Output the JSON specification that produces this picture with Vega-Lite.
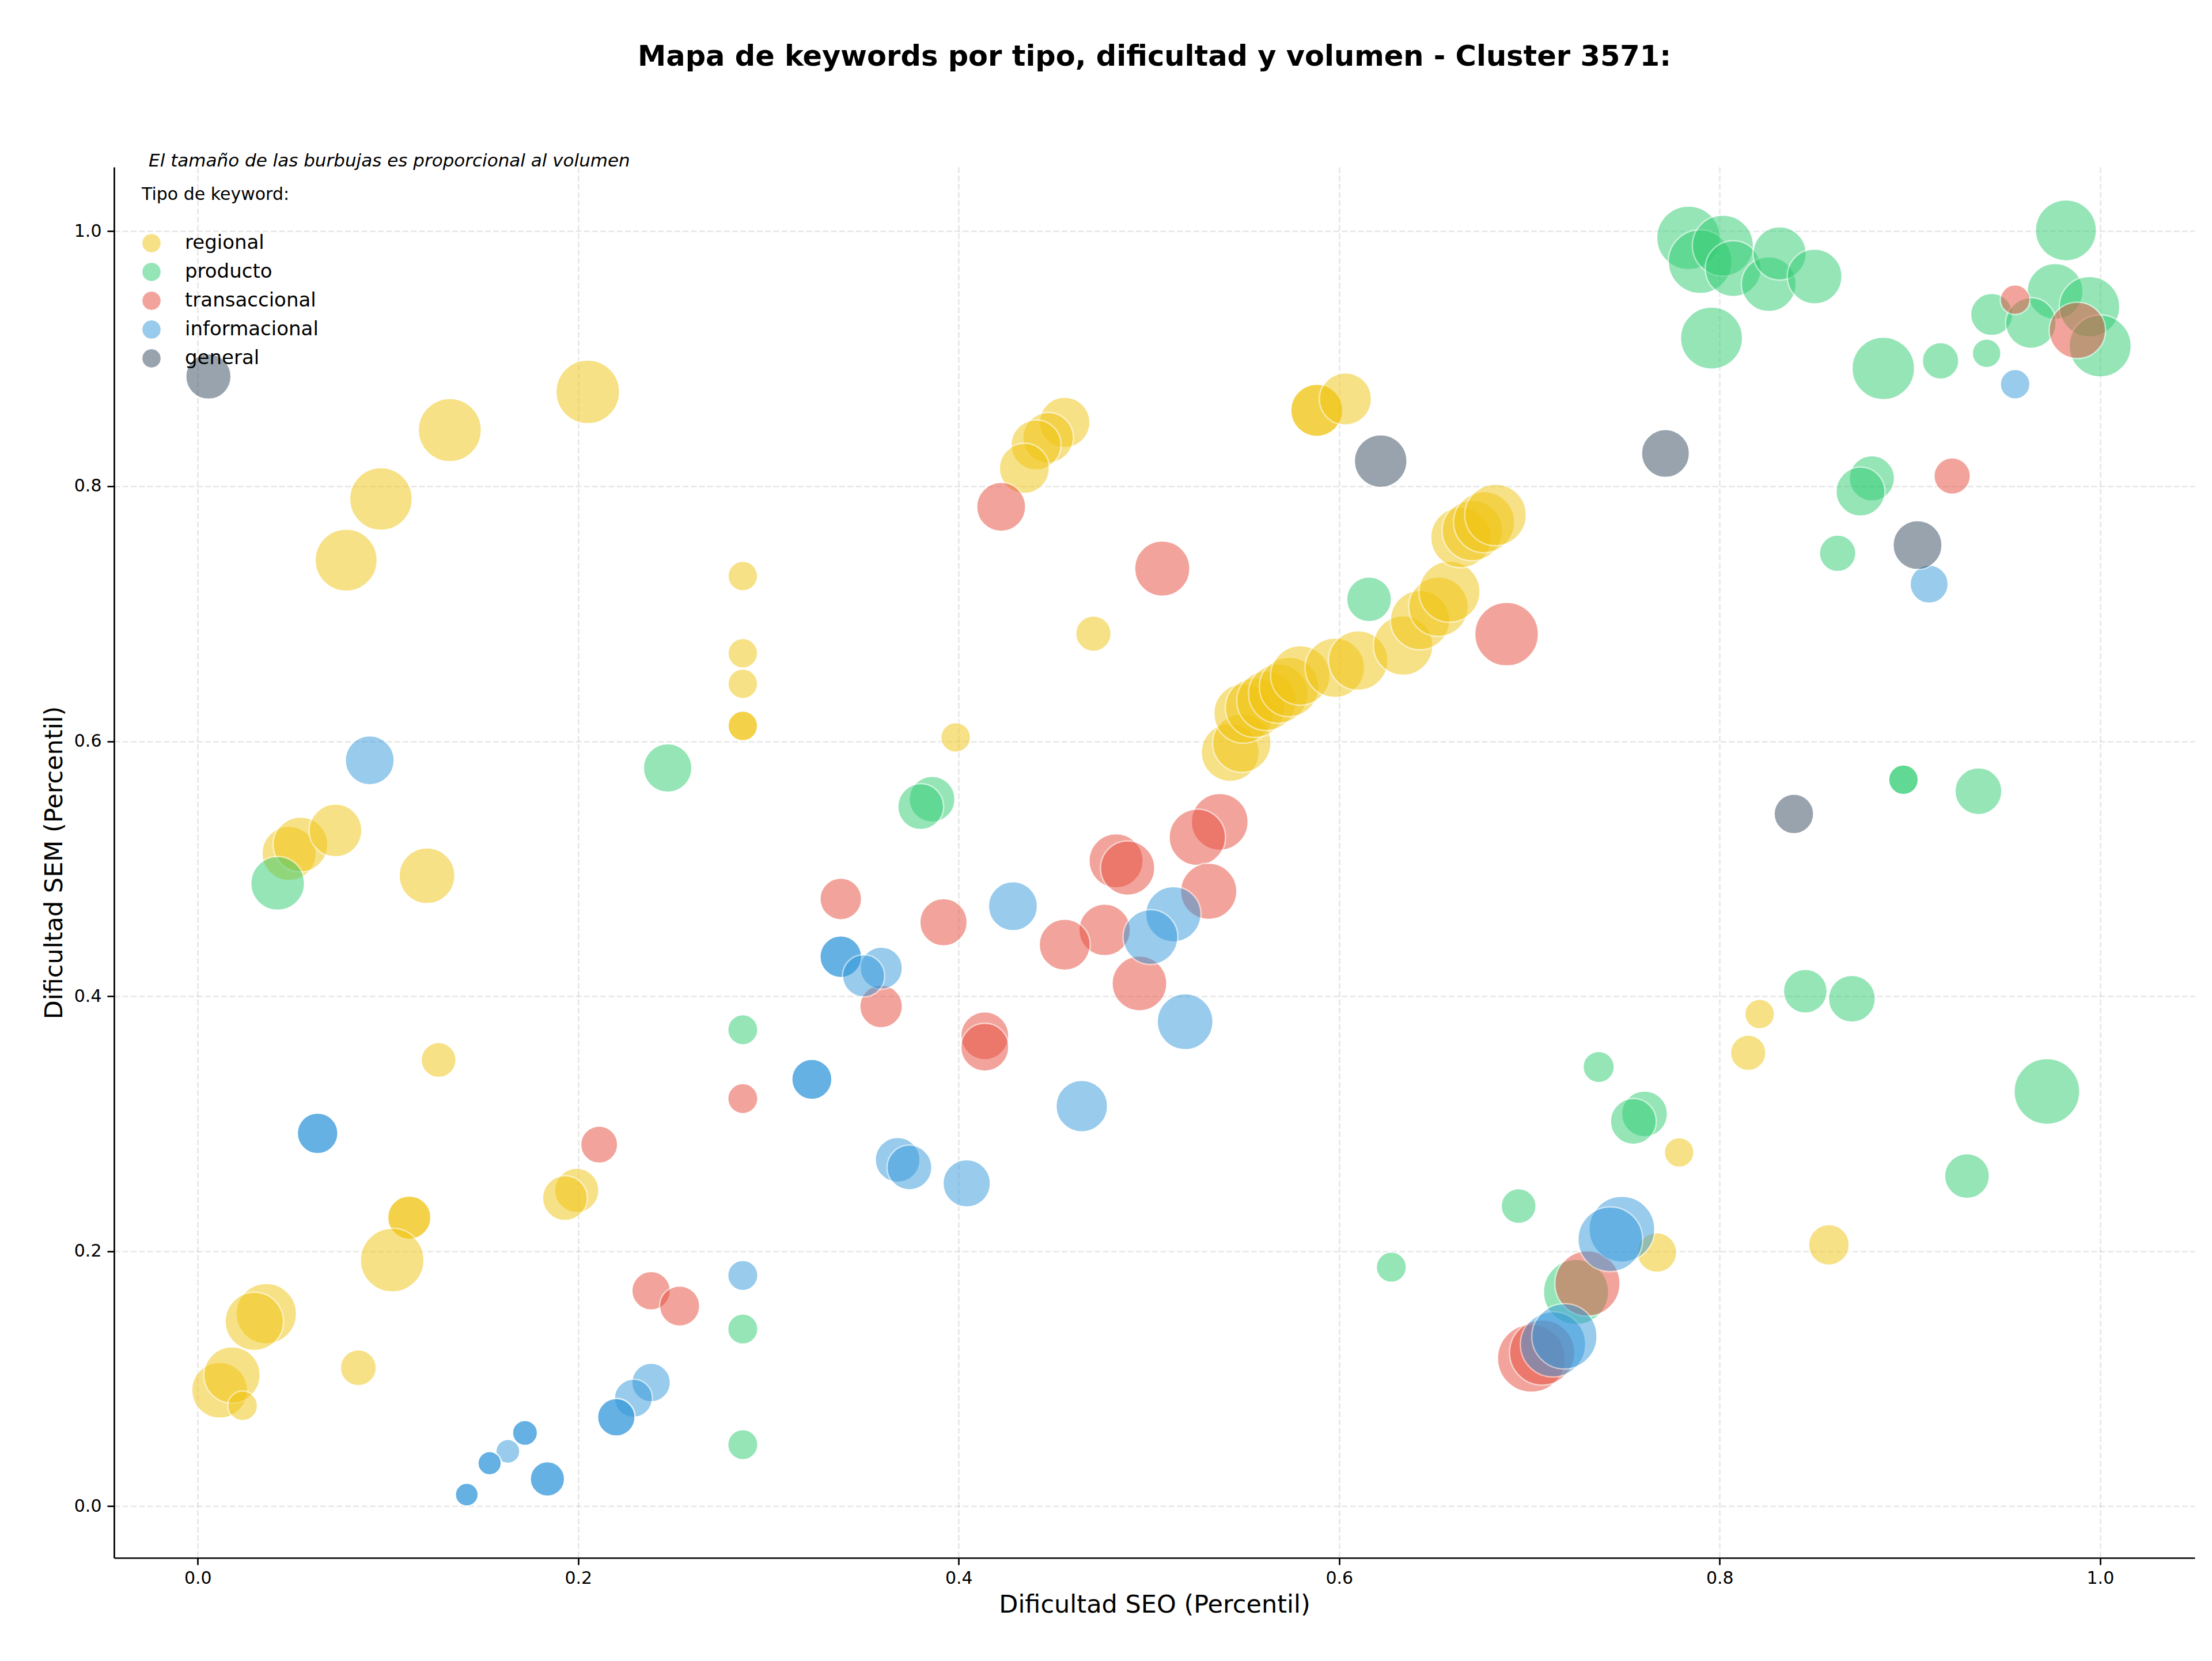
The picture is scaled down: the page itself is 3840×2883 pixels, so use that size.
{
  "$schema": "https://vega.github.io/schema/vega-lite/v6.json",
  "width": 3612,
  "height": 2414,
  "autosize": {"type": "none"},
  "padding": {"left": 198, "top": 290, "right": 30, "bottom": 179},
  "background": "white",
  "config": {"view": {"stroke": null}, "font": "DejaVu Sans"},
  "title": {
    "text": "Mapa de keywords por tipo, dificultad y volumen - Cluster 3571:",
    "font": "DejaVu Sans",
    "fontSize": 49.5,
    "fontWeight": "bold",
    "color": "black",
    "anchor": "middle",
    "baseline": "alphabetic",
    "offset": 101
  },
  "layer": [
    {
      "data": {
        "values": [
          {"tipo": "regional", "seo": 0.205, "sem": 0.874, "volumen": 1169},
          {"tipo": "regional", "seo": 0.1325, "sem": 0.844, "volumen": 1150},
          {"tipo": "regional", "seo": 0.0963, "sem": 0.79, "volumen": 1131},
          {"tipo": "regional", "seo": 0.078, "sem": 0.742, "volumen": 1112},
          {"tipo": "regional", "seo": 0.048, "sem": 0.512, "volumen": 849},
          {"tipo": "regional", "seo": 0.054, "sem": 0.519, "volumen": 866},
          {"tipo": "regional", "seo": 0.0724, "sem": 0.53, "volumen": 801},
          {"tipo": "regional", "seo": 0.1205, "sem": 0.4945, "volumen": 899},
          {"tipo": "regional", "seo": 0.1266, "sem": 0.35, "volumen": 353},
          {"tipo": "regional", "seo": 0.1992, "sem": 0.2477, "volumen": 567},
          {"tipo": "regional", "seo": 0.193, "sem": 0.2417, "volumen": 581},
          {"tipo": "regional", "seo": 0.1112, "sem": 0.2264, "volumen": 541},
          {"tipo": "regional", "seo": 0.1112, "sem": 0.2264, "volumen": 541},
          {"tipo": "regional", "seo": 0.1022, "sem": 0.193, "volumen": 1169},
          {"tipo": "regional", "seo": 0.036, "sem": 0.151, "volumen": 1057},
          {"tipo": "regional", "seo": 0.0297, "sem": 0.145, "volumen": 985},
          {"tipo": "regional", "seo": 0.0844, "sem": 0.1086, "volumen": 374},
          {"tipo": "regional", "seo": 0.0115, "sem": 0.091, "volumen": 899},
          {"tipo": "regional", "seo": 0.018, "sem": 0.103, "volumen": 916},
          {"tipo": "regional", "seo": 0.0236, "sem": 0.0787, "volumen": 255},
          {"tipo": "regional", "seo": 0.2865, "sem": 0.7295, "volumen": 255},
          {"tipo": "regional", "seo": 0.2865, "sem": 0.669, "volumen": 255},
          {"tipo": "regional", "seo": 0.2865, "sem": 0.645, "volumen": 255},
          {"tipo": "regional", "seo": 0.2865, "sem": 0.612, "volumen": 255},
          {"tipo": "regional", "seo": 0.2865, "sem": 0.612, "volumen": 255},
          {"tipo": "regional", "seo": 0.3984, "sem": 0.603, "volumen": 255},
          {"tipo": "regional", "seo": 0.4557, "sem": 0.85, "volumen": 739},
          {"tipo": "regional", "seo": 0.447, "sem": 0.838, "volumen": 739},
          {"tipo": "regional", "seo": 0.4406, "sem": 0.8324, "volumen": 724},
          {"tipo": "regional", "seo": 0.4345, "sem": 0.814, "volumen": 724},
          {"tipo": "regional", "seo": 0.4708, "sem": 0.6844, "volumen": 363},
          {"tipo": "regional", "seo": 0.5882, "sem": 0.8595, "volumen": 785},
          {"tipo": "regional", "seo": 0.5882, "sem": 0.8595, "volumen": 785},
          {"tipo": "regional", "seo": 0.6033, "sem": 0.8685, "volumen": 785},
          {"tipo": "regional", "seo": 0.5427, "sem": 0.5912, "volumen": 968},
          {"tipo": "regional", "seo": 0.5488, "sem": 0.5985, "volumen": 985},
          {"tipo": "regional", "seo": 0.5497, "sem": 0.6218, "volumen": 1021},
          {"tipo": "regional", "seo": 0.5558, "sem": 0.6263, "volumen": 1021},
          {"tipo": "regional", "seo": 0.5618, "sem": 0.6317, "volumen": 1021},
          {"tipo": "regional", "seo": 0.568, "sem": 0.6374, "volumen": 1021},
          {"tipo": "regional", "seo": 0.5737, "sem": 0.6426, "volumen": 1021},
          {"tipo": "regional", "seo": 0.5796, "sem": 0.6516, "volumen": 1021},
          {"tipo": "regional", "seo": 0.5977, "sem": 0.6576, "volumen": 1021},
          {"tipo": "regional", "seo": 0.61, "sem": 0.6633, "volumen": 1021},
          {"tipo": "regional", "seo": 0.6336, "sem": 0.675, "volumen": 1021},
          {"tipo": "regional", "seo": 0.6425, "sem": 0.695, "volumen": 1021},
          {"tipo": "regional", "seo": 0.6522, "sem": 0.7055, "volumen": 1021},
          {"tipo": "regional", "seo": 0.658, "sem": 0.7173, "volumen": 1075},
          {"tipo": "regional", "seo": 0.664, "sem": 0.7598, "volumen": 1057},
          {"tipo": "regional", "seo": 0.67, "sem": 0.7652, "volumen": 1057},
          {"tipo": "regional", "seo": 0.6762, "sem": 0.7718, "volumen": 1075},
          {"tipo": "regional", "seo": 0.6822, "sem": 0.7775, "volumen": 1094},
          {"tipo": "regional", "seo": 0.7787, "sem": 0.2775, "volumen": 255},
          {"tipo": "regional", "seo": 0.821, "sem": 0.386, "volumen": 255},
          {"tipo": "regional", "seo": 0.815, "sem": 0.3556, "volumen": 363},
          {"tipo": "regional", "seo": 0.767, "sem": 0.199, "volumen": 454},
          {"tipo": "regional", "seo": 0.8574, "sem": 0.205, "volumen": 478},
          {"tipo": "producto", "seo": 0.247, "sem": 0.579, "volumen": 680},
          {"tipo": "producto", "seo": 0.042, "sem": 0.4885, "volumen": 833},
          {"tipo": "producto", "seo": 0.2865, "sem": 0.3737, "volumen": 264},
          {"tipo": "producto", "seo": 0.2865, "sem": 0.139, "volumen": 264},
          {"tipo": "producto", "seo": 0.2865, "sem": 0.0483, "volumen": 264},
          {"tipo": "producto", "seo": 0.386, "sem": 0.5545, "volumen": 608},
          {"tipo": "producto", "seo": 0.38, "sem": 0.5487, "volumen": 608},
          {"tipo": "producto", "seo": 0.6157, "sem": 0.7113, "volumen": 581},
          {"tipo": "producto", "seo": 0.7836, "sem": 0.9948, "volumen": 1169},
          {"tipo": "producto", "seo": 0.7897, "sem": 0.9761, "volumen": 1169},
          {"tipo": "producto", "seo": 0.8017, "sem": 0.9887, "volumen": 1075},
          {"tipo": "producto", "seo": 0.8071, "sem": 0.9706, "volumen": 899},
          {"tipo": "producto", "seo": 0.8258, "sem": 0.9585, "volumen": 866},
          {"tipo": "producto", "seo": 0.8315, "sem": 0.9826, "volumen": 817},
          {"tipo": "producto", "seo": 0.8499, "sem": 0.9645, "volumen": 866},
          {"tipo": "producto", "seo": 0.7957, "sem": 0.9162, "volumen": 1112},
          {"tipo": "producto", "seo": 0.886, "sem": 0.8924, "volumen": 1131},
          {"tipo": "producto", "seo": 0.9161, "sem": 0.8983, "volumen": 385},
          {"tipo": "producto", "seo": 0.9403, "sem": 0.9042, "volumen": 238},
          {"tipo": "producto", "seo": 0.982, "sem": 1.0007, "volumen": 1075},
          {"tipo": "producto", "seo": 0.9763, "sem": 0.9528, "volumen": 899},
          {"tipo": "producto", "seo": 0.943, "sem": 0.9347, "volumen": 515},
          {"tipo": "producto", "seo": 0.9636, "sem": 0.928, "volumen": 739},
          {"tipo": "producto", "seo": 0.9944, "sem": 0.9408, "volumen": 1057},
          {"tipo": "producto", "seo": 1.0, "sem": 0.91, "volumen": 1112},
          {"tipo": "producto", "seo": 0.88, "sem": 0.8062, "volumen": 594},
          {"tipo": "producto", "seo": 0.874, "sem": 0.7958, "volumen": 694},
          {"tipo": "producto", "seo": 0.862, "sem": 0.7474, "volumen": 385},
          {"tipo": "producto", "seo": 0.8966, "sem": 0.5698, "volumen": 255},
          {"tipo": "producto", "seo": 0.8966, "sem": 0.5698, "volumen": 255},
          {"tipo": "producto", "seo": 0.936, "sem": 0.5608, "volumen": 636},
          {"tipo": "producto", "seo": 0.845, "sem": 0.404, "volumen": 554},
          {"tipo": "producto", "seo": 0.8695, "sem": 0.398, "volumen": 636},
          {"tipo": "producto", "seo": 0.972, "sem": 0.3253, "volumen": 1247},
          {"tipo": "producto", "seo": 0.93, "sem": 0.259, "volumen": 581},
          {"tipo": "producto", "seo": 0.7605, "sem": 0.3077, "volumen": 608},
          {"tipo": "producto", "seo": 0.7546, "sem": 0.3018, "volumen": 608},
          {"tipo": "producto", "seo": 0.6943, "sem": 0.2354, "volumen": 353},
          {"tipo": "producto", "seo": 0.7364, "sem": 0.3445, "volumen": 283},
          {"tipo": "producto", "seo": 0.6274, "sem": 0.1875, "volumen": 264},
          {"tipo": "producto", "seo": 0.7245, "sem": 0.168, "volumen": 1227},
          {"tipo": "transaccional", "seo": 0.2865, "sem": 0.3197, "volumen": 264},
          {"tipo": "transaccional", "seo": 0.211, "sem": 0.2836, "volumen": 396},
          {"tipo": "transaccional", "seo": 0.2383, "sem": 0.169, "volumen": 430},
          {"tipo": "transaccional", "seo": 0.2533, "sem": 0.157, "volumen": 466},
          {"tipo": "transaccional", "seo": 0.338, "sem": 0.4763, "volumen": 503},
          {"tipo": "transaccional", "seo": 0.392, "sem": 0.458, "volumen": 650},
          {"tipo": "transaccional", "seo": 0.3592, "sem": 0.392, "volumen": 528},
          {"tipo": "transaccional", "seo": 0.4137, "sem": 0.369, "volumen": 665},
          {"tipo": "transaccional", "seo": 0.4137, "sem": 0.36, "volumen": 665},
          {"tipo": "transaccional", "seo": 0.4223, "sem": 0.7838, "volumen": 694},
          {"tipo": "transaccional", "seo": 0.507, "sem": 0.7354, "volumen": 882},
          {"tipo": "transaccional", "seo": 0.688, "sem": 0.684, "volumen": 1169},
          {"tipo": "transaccional", "seo": 0.5372, "sem": 0.5368, "volumen": 933},
          {"tipo": "transaccional", "seo": 0.5254, "sem": 0.5246, "volumen": 916},
          {"tipo": "transaccional", "seo": 0.5314, "sem": 0.4823, "volumen": 916},
          {"tipo": "transaccional", "seo": 0.4827, "sem": 0.5062, "volumen": 849},
          {"tipo": "transaccional", "seo": 0.4888, "sem": 0.5005, "volumen": 849},
          {"tipo": "transaccional", "seo": 0.4767, "sem": 0.452, "volumen": 770},
          {"tipo": "transaccional", "seo": 0.4557, "sem": 0.4404, "volumen": 754},
          {"tipo": "transaccional", "seo": 0.495, "sem": 0.41, "volumen": 866},
          {"tipo": "transaccional", "seo": 0.9553, "sem": 0.9463, "volumen": 255},
          {"tipo": "transaccional", "seo": 0.988, "sem": 0.9222, "volumen": 916},
          {"tipo": "transaccional", "seo": 0.9222, "sem": 0.808, "volumen": 385},
          {"tipo": "transaccional", "seo": 0.7305, "sem": 0.1747, "volumen": 1227},
          {"tipo": "transaccional", "seo": 0.701, "sem": 0.116, "volumen": 1327},
          {"tipo": "transaccional", "seo": 0.7067, "sem": 0.1206, "volumen": 1227},
          {"tipo": "informacional", "seo": 0.0904, "sem": 0.585, "volumen": 694},
          {"tipo": "informacional", "seo": 0.063, "sem": 0.2925, "volumen": 478},
          {"tipo": "informacional", "seo": 0.063, "sem": 0.2925, "volumen": 478},
          {"tipo": "informacional", "seo": 0.3228, "sem": 0.3348, "volumen": 466},
          {"tipo": "informacional", "seo": 0.3228, "sem": 0.3348, "volumen": 466},
          {"tipo": "informacional", "seo": 0.338, "sem": 0.431, "volumen": 503},
          {"tipo": "informacional", "seo": 0.338, "sem": 0.431, "volumen": 503},
          {"tipo": "informacional", "seo": 0.3593, "sem": 0.422, "volumen": 515},
          {"tipo": "informacional", "seo": 0.35, "sem": 0.416, "volumen": 515},
          {"tipo": "informacional", "seo": 0.2865, "sem": 0.181, "volumen": 264},
          {"tipo": "informacional", "seo": 0.2383, "sem": 0.097, "volumen": 430},
          {"tipo": "informacional", "seo": 0.229, "sem": 0.0847, "volumen": 419},
          {"tipo": "informacional", "seo": 0.22, "sem": 0.0698, "volumen": 407},
          {"tipo": "informacional", "seo": 0.22, "sem": 0.0698, "volumen": 407},
          {"tipo": "informacional", "seo": 0.172, "sem": 0.0575, "volumen": 181},
          {"tipo": "informacional", "seo": 0.172, "sem": 0.0575, "volumen": 181},
          {"tipo": "informacional", "seo": 0.163, "sem": 0.043, "volumen": 166},
          {"tipo": "informacional", "seo": 0.1534, "sem": 0.0337, "volumen": 159},
          {"tipo": "informacional", "seo": 0.1534, "sem": 0.0337, "volumen": 159},
          {"tipo": "informacional", "seo": 0.1838, "sem": 0.0214, "volumen": 342},
          {"tipo": "informacional", "seo": 0.1838, "sem": 0.0214, "volumen": 342},
          {"tipo": "informacional", "seo": 0.1414, "sem": 0.0091, "volumen": 152},
          {"tipo": "informacional", "seo": 0.1414, "sem": 0.0091, "volumen": 152},
          {"tipo": "informacional", "seo": 0.3679, "sem": 0.2717, "volumen": 581},
          {"tipo": "informacional", "seo": 0.3741, "sem": 0.2657, "volumen": 581},
          {"tipo": "informacional", "seo": 0.4042, "sem": 0.2532, "volumen": 650},
          {"tipo": "informacional", "seo": 0.4647, "sem": 0.3138, "volumen": 770},
          {"tipo": "informacional", "seo": 0.4285, "sem": 0.4706, "volumen": 694},
          {"tipo": "informacional", "seo": 0.5128, "sem": 0.4643, "volumen": 882},
          {"tipo": "informacional", "seo": 0.5008, "sem": 0.4464, "volumen": 866},
          {"tipo": "informacional", "seo": 0.519, "sem": 0.38, "volumen": 899},
          {"tipo": "informacional", "seo": 0.9553, "sem": 0.88, "volumen": 255},
          {"tipo": "informacional", "seo": 0.9101, "sem": 0.7232, "volumen": 419},
          {"tipo": "informacional", "seo": 0.7486, "sem": 0.2173, "volumen": 1247},
          {"tipo": "informacional", "seo": 0.7425, "sem": 0.2094, "volumen": 1207},
          {"tipo": "informacional", "seo": 0.7124, "sem": 0.127, "volumen": 1227},
          {"tipo": "informacional", "seo": 0.7184, "sem": 0.1332, "volumen": 1227},
          {"tipo": "general", "seo": 0.0056, "sem": 0.886, "volumen": 594},
          {"tipo": "general", "seo": 0.6218, "sem": 0.8197, "volumen": 801},
          {"tipo": "general", "seo": 0.7715, "sem": 0.8257, "volumen": 665},
          {"tipo": "general", "seo": 0.839, "sem": 0.543, "volumen": 454},
          {"tipo": "general", "seo": 0.904, "sem": 0.7538, "volumen": 694}
        ]
      },
      "mark": {
        "type": "point",
        "shape": "circle",
        "filled": true,
        "opacity": 0.5,
        "stroke": "white",
        "strokeWidth": 2.5
      },
      "encoding": {
        "x": {
          "field": "seo",
          "type": "quantitative",
          "scale": {"domain": [-0.044, 1.0497], "nice": false, "zero": false},
          "axis": {
            "title": "Dificultad SEO (Percentil)",
            "values": [0, 0.2, 0.4, 0.6, 0.8, 1.0],
            "format": ".1f",
            "labelFont": "DejaVu Sans",
            "labelFontSize": 30,
            "labelColor": "black",
            "labelPadding": 8,
            "titleFont": "DejaVu Sans",
            "titleFontSize": 43,
            "titleFontWeight": "normal",
            "titleColor": "black",
            "titlePadding": 10,
            "tickSize": 12,
            "tickWidth": 2.7,
            "tickColor": "black",
            "domainColor": "black",
            "domainWidth": 2.7,
            "grid": true,
            "gridColor": "#b0b0b0",
            "gridOpacity": 0.3,
            "gridWidth": 2.7,
            "gridDash": [10, 4.3]
          }
        },
        "y": {
          "field": "sem",
          "type": "quantitative",
          "scale": {"domain": [-0.0405, 1.0503], "nice": false, "zero": false},
          "axis": {
            "title": "Dificultad SEM (Percentil)",
            "values": [0, 0.2, 0.4, 0.6, 0.8, 1.0],
            "format": ".1f",
            "labelFont": "DejaVu Sans",
            "labelFontSize": 30,
            "labelColor": "black",
            "labelPadding": 10,
            "titleFont": "DejaVu Sans",
            "titleFontSize": 43,
            "titleFontWeight": "normal",
            "titleColor": "black",
            "titlePadding": 12,
            "tickSize": 12,
            "tickWidth": 2.7,
            "tickColor": "black",
            "domainColor": "black",
            "domainWidth": 2.7,
            "grid": true,
            "gridColor": "#b0b0b0",
            "gridOpacity": 0.3,
            "gridWidth": 2.7,
            "gridDash": [10, 4.3]
          }
        },
        "color": {
          "field": "tipo",
          "type": "nominal",
          "scale": {
            "domain": ["regional", "producto", "transaccional", "informacional", "general"],
            "range": ["#f1c40f", "#2ecc71", "#e74c3c", "#3498db", "#34495e"]
          },
          "legend": {
            "title": "Tipo de keyword:",
            "orient": "none",
            "legendX": 48,
            "legendY": 33,
            "titleFont": "DejaVu Sans",
            "titleFontSize": 30,
            "titleFontWeight": "normal",
            "titleColor": "black",
            "titleLimit": 800,
            "titlePadding": 52,
            "labelFont": "DejaVu Sans",
            "labelFontSize": 34,
            "labelColor": "black",
            "labelLimit": 600,
            "labelOffset": 41,
            "symbolType": "circle",
            "symbolSize": 1075,
            "symbolOpacity": 0.5,
            "symbolStrokeColor": "white",
            "symbolStrokeWidth": 1,
            "rowPadding": 12
          }
        },
        "size": {
          "field": "volumen",
          "type": "quantitative",
          "scale": {"domain": [0, 1500], "range": [0, 15750]},
          "legend": null
        }
      }
    },
    {
      "data": {"values": [{"nota": "El tamaño de las burbujas es proporcional al volumen", "seo": -0.0258, "sem": 1.0547}]},
      "mark": {"type": "text", "align": "left", "baseline": "middle", "font": "DejaVu Sans", "fontStyle": "italic", "fontSize": 31, "color": "black"},
      "encoding": {
        "x": {"field": "seo", "type": "quantitative"},
        "y": {"field": "sem", "type": "quantitative"},
        "text": {"field": "nota"}
      }
    }
  ]
}
